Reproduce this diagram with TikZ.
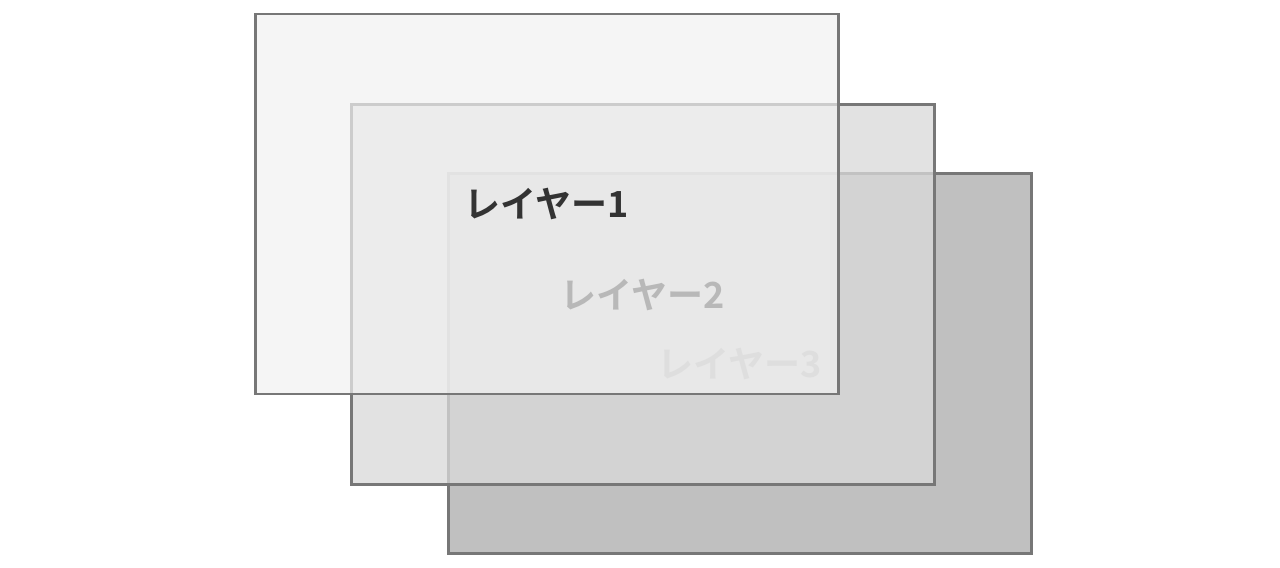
\documentclass[tikz,border=0pt]{standalone}
\usepackage{fontspec}
\newfontfamily\jpfont{Noto Sans CJK JP}[BoldFont={Noto Sans CJK JP Bold}]
\usetikzlibrary{positioning}

\definecolor{edgegray}{HTML}{777777}
\definecolor{textgray}{HTML}{333333}
\definecolor{layerfront}{HTML}{F1F1F1}
\definecolor{layermid}{HTML}{D9D9D9}
\definecolor{layerback}{HTML}{C0C0C0}

\tikzset{
    layer/.style={draw=edgegray, line width=1.9pt, inner sep=0pt,
        minimum width=437.25pt, minimum height=285pt,
        text=textgray, text opacity=1,
        font=\jpfont\bfseries\fontsize{27}{32}\selectfont}
}

\begin{document}
\begin{tikzpicture}[x=0.75pt, y=-0.75pt]
    \useasboundingbox (0,0) rectangle (1280,567);

    \node[layer, fill=layerback] (lay3) at (740,363.5) {レイヤー3};
    \node[layer, fill=layermid, fill opacity=0.77] (lay2) at (643,294.5) {レイヤー2};
    \node[layer, fill=layerfront, fill opacity=0.7] (lay1) at (547,204) {レイヤー1};
\end{tikzpicture}
\end{document}
